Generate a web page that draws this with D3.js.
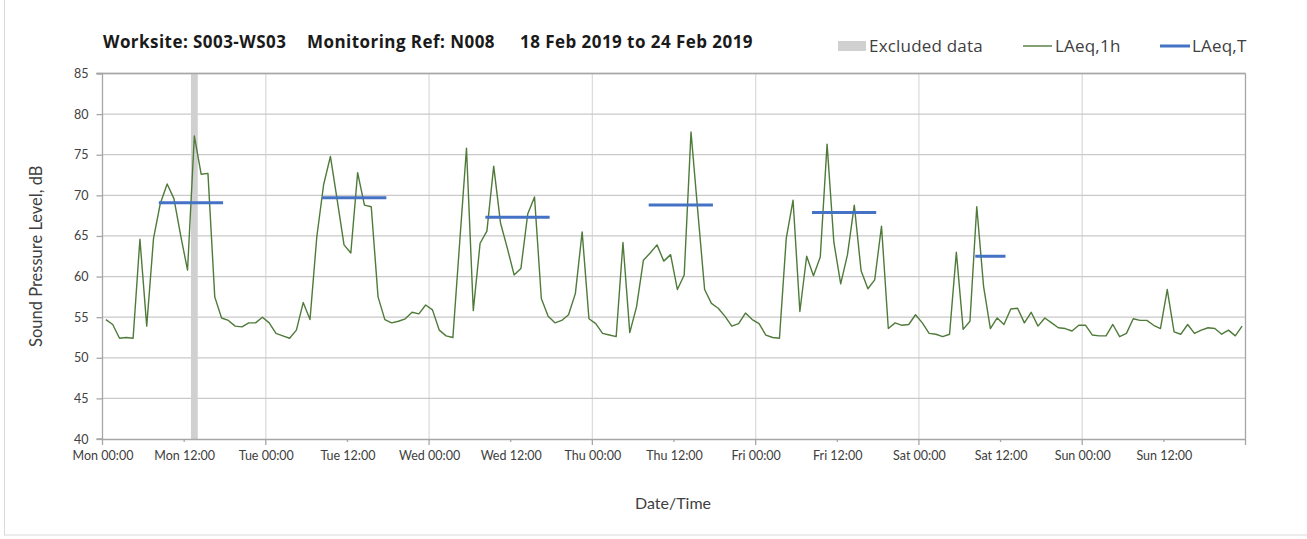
<!DOCTYPE html>
<html>
<head>
<meta charset="utf-8">
<script src="https://cdn.jsdelivr.net/npm/d3@7"></script>
<style>
  body { margin: 0; background: #fff; }
  svg { display: block; font-family: Lato, "Open Sans", sans-serif; }
</style>
</head>
<body>
<div id="chart"></div>
<script>
// hourly LAeq,1h values, Mon 18 Feb 2019 00:00 onwards (one per hour)
const laeq1h = [
  54.7, 54.1, 52.4, 52.5, 52.4, 64.6, 53.9, 64.7, 69.0, 71.4, 69.6, 65.0,
  60.8, 77.3, 72.6, 72.7, 57.5, 54.9, 54.6, 53.9, 53.8, 54.3, 54.3, 55.0,
  54.3, 53.0, 52.7, 52.4, 53.4, 56.8, 54.7, 64.9, 71.3, 74.8, 69.4, 63.9,
  62.9, 72.8, 68.8, 68.6, 57.5, 54.7, 54.3, 54.5, 54.8, 55.6, 55.4, 56.5,
  55.9, 53.4, 52.7, 52.5, 64.2, 75.8, 55.8, 64.1, 65.6, 73.6, 66.6, 63.5,
  60.2, 61.0, 67.7, 69.8, 57.3, 55.1, 54.3, 54.6, 55.3, 57.9, 65.5, 54.8,
  54.2, 53.0, 52.8, 52.6, 64.2, 53.1, 56.3, 62.0, 62.9, 63.9, 61.9, 62.7,
  58.4, 60.2, 77.8, 68.0, 58.4, 56.7, 56.1, 55.1, 53.9, 54.2, 55.5, 54.7,
  54.2, 52.8, 52.5, 52.4, 64.7, 69.4, 55.7, 62.5, 60.1, 62.4, 76.3, 64.2,
  59.1, 62.7, 68.8, 60.7, 58.5, 59.6, 66.2, 53.6, 54.3, 54.0, 54.1, 55.3,
  54.3, 53.0, 52.9, 52.6, 52.9, 63.0, 53.5, 54.5, 68.6, 58.8, 53.6, 54.9,
  54.1, 56.0, 56.1, 54.3, 55.6, 53.9, 54.9, 54.3, 53.7, 53.6, 53.3, 54.0,
  54.0, 52.8, 52.7, 52.7, 54.1, 52.6, 53.0, 54.8, 54.6, 54.6, 54.0, 53.6,
  58.4, 53.2, 52.9, 54.1, 53.0, 53.4, 53.7, 53.6, 52.9, 53.4, 52.7, 53.9
];

// LAeq,T per day: day index, first hour, last hour, level
const laeqTDays = [0, 1, 2, 3, 4, 5];
const laeqTFrom = [8, 8, 8, 8, 8, 8];
const laeqTTo = [17, 17, 17, 17, 17, 12];
const laeqTValues = [69.1, 69.7, 67.3, 68.8, 67.9, 62.5];

// excluded data period (hours from start)
const excludedFrom = [13];
const excludedTo = [14];

const yTicks = [40, 45, 50, 55, 60, 65, 70, 75, 80, 85];
const xTickHours = d3.range(0, 168, 12);

const titleParts = ['Worksite: S003-WS03', 'Monitoring Ref: N008', '18 Feb 2019 to 24 Feb 2019'];
const legendLabels = ['Excluded data', 'LAeq,1h', 'LAeq,T'];

const W = 1307, H = 539;
const plot = { left: 102.5, right: 1245.5, top: 73.5, bottom: 439 };

const t0 = Date.UTC(2019, 1, 18);
const hourDate = h => new Date(t0 + h * 3600e3);

const svg = d3.select('#chart').append('svg')
  .attr('width', W).attr('height', H);

// outer chart frame
svg.append('rect')
  .attr('x', 4.5).attr('y', -2).attr('width', W + 4).attr('height', H - 2)
  .attr('fill', 'none').attr('stroke', '#d9d9d9');

const x = d3.scaleUtc()
  .domain([hourDate(0), hourDate(168)])
  .range([plot.left, plot.right]);
const y = d3.scaleLinear()
  .domain([40, 85])
  .range([plot.bottom, plot.top]);

// vertical gridlines at day boundaries
svg.append('g').selectAll('line')
  .data(d3.range(24, 168, 24))
  .join('line')
  .attr('x1', d => x(hourDate(d))).attr('x2', d => x(hourDate(d)))
  .attr('y1', plot.top).attr('y2', plot.bottom)
  .attr('stroke', '#dcdcdc').attr('stroke-width', 1.3);

// horizontal gridlines
svg.append('g').selectAll('line')
  .data(yTicks.slice(1))
  .join('line')
  .attr('x1', plot.left).attr('x2', plot.right)
  .attr('y1', d => y(d)).attr('y2', d => y(d))
  .attr('stroke', '#c9c9c9').attr('stroke-width', 1.3);

// right frame
svg.append('line')
  .attr('x1', plot.right).attr('x2', plot.right)
  .attr('y1', plot.top).attr('y2', plot.bottom)
  .attr('stroke', '#a6a6a6').attr('stroke-width', 1.3);

// excluded band
svg.append('g').selectAll('rect')
  .data(excludedFrom.map((f, i) => ({ from: f, to: excludedTo[i] })))
  .join('rect')
  .attr('x', d => x(hourDate(d.from)))
  .attr('width', d => x(hourDate(d.to)) - x(hourDate(d.from)))
  .attr('y', plot.top).attr('height', plot.bottom - plot.top)
  .attr('fill', '#d0d0d0');

// axes
const yAxis = d3.axisLeft(y).tickValues(yTicks).tickSize(6).tickPadding(8);
const yAxisG = svg.append('g')
  .attr('transform', `translate(${plot.left},0)`)
  .call(yAxis);

const xAxis = d3.axisBottom(x)
  .tickValues(xTickHours.map(hourDate))
  .tickFormat(d3.utcFormat('%a %H:%M'))
  .tickSize(0).tickPadding(12);
const xAxisG = svg.append('g')
  .attr('transform', `translate(0,${plot.bottom})`)
  .call(xAxis);

// x tick marks: long at midnight, short at noon
svg.append('g').selectAll('line')
  .data(d3.range(0, 169, 12))
  .join('line')
  .attr('x1', d => x(hourDate(d))).attr('x2', d => x(hourDate(d)))
  .attr('y1', plot.bottom).attr('y2', d => plot.bottom + (d % 24 === 0 ? 6 : 3))
  .attr('stroke', '#a6a6a6').attr('stroke-width', 1.3);

[yAxisG, xAxisG].forEach(g => {
  g.select('.domain').attr('stroke', '#a6a6a6').attr('stroke-width', 1.3);
  g.selectAll('.tick line').attr('stroke', '#a6a6a6').attr('stroke-width', 1.3);
  g.selectAll('.tick text')
    .attr('fill', '#404040')
    .style('font-size', '12.5px')
    .style('font-family', 'Lato, sans-serif');
});
yAxisG.select('.domain').attr('d', `M-6,${plot.bottom}H0V${plot.top}H-6`);
// top frame
svg.append('line')
  .attr('x1', plot.left - 6).attr('x2', plot.right)
  .attr('y1', plot.top).attr('y2', plot.top)
  .attr('stroke', '#a6a6a6').attr('stroke-width', 1.3);

// LAeq,1h line
const line = d3.line()
  .x((d, i) => x(hourDate(i + 0.5)))
  .y(d => y(d));
svg.append('path')
  .datum(laeq1h)
  .attr('d', line)
  .attr('fill', 'none')
  .attr('stroke', '#4f7a3a')
  .attr('stroke-width', 1.4)
  .attr('stroke-linejoin', 'round');

// LAeq,T segments
svg.append('g').selectAll('line')
  .data(laeqTDays.map((d, i) => ({ day: d, from: laeqTFrom[i], to: laeqTTo[i], v: laeqTValues[i] })))
  .join('line')
  .attr('x1', d => x(hourDate(d.day * 24 + d.from + 0.5)))
  .attr('x2', d => x(hourDate(d.day * 24 + d.to + 0.5)))
  .attr('y1', d => y(d.v)).attr('y2', d => y(d.v))
  .attr('stroke', '#4472c4').attr('stroke-width', 3)
  .attr('stroke-linecap', 'square');

// title
svg.append('g').selectAll('text')
  .data(titleParts)
  .join('text')
  .attr('x', (d, i) => [103, 307, 520][i]).attr('y', 48)
  .attr('font-family', '"Open Sans", sans-serif')
  .attr('font-size', '17px').attr('letter-spacing', '0.45px')
  .attr('font-weight', 'bold').attr('fill', '#1a1a1a')
  .text(d => d);

// legend
const legend = svg.append('g')
  .attr('font-family', '"Open Sans", sans-serif')
  .attr('font-size', '17px').attr('letter-spacing', '0.2px').attr('fill', '#404040');
legend.append('rect').attr('x', 838).attr('y', 41).attr('width', 28).attr('height', 10).attr('fill', '#d0d0d0');
legend.append('line').attr('x1', 1023).attr('x2', 1052).attr('y1', 46).attr('y2', 46)
  .attr('stroke', '#4f7a3a').attr('stroke-width', 1.4);
legend.append('line').attr('x1', 1160).attr('x2', 1190).attr('y1', 46).attr('y2', 46)
  .attr('stroke', '#4472c4').attr('stroke-width', 3);
legend.selectAll('text')
  .data(legendLabels)
  .join('text')
  .attr('x', (d, i) => [869, 1055, 1192][i]).attr('y', 52)
  .text(d => d);

// axis titles
svg.append('text')
  .attr('transform', `translate(42,${(plot.top + plot.bottom) / 2}) rotate(-90)`)
  .attr('text-anchor', 'middle')
  .attr('font-size', '16.5px').attr('fill', '#404040')
  .text('Sound Pressure Level, dB');

svg.append('text')
  .attr('x', 673).attr('y', 509)
  .attr('text-anchor', 'middle')
  .attr('font-size', '16px').attr('fill', '#404040')
  .text('Date/Time');
</script>
</body>
</html>
